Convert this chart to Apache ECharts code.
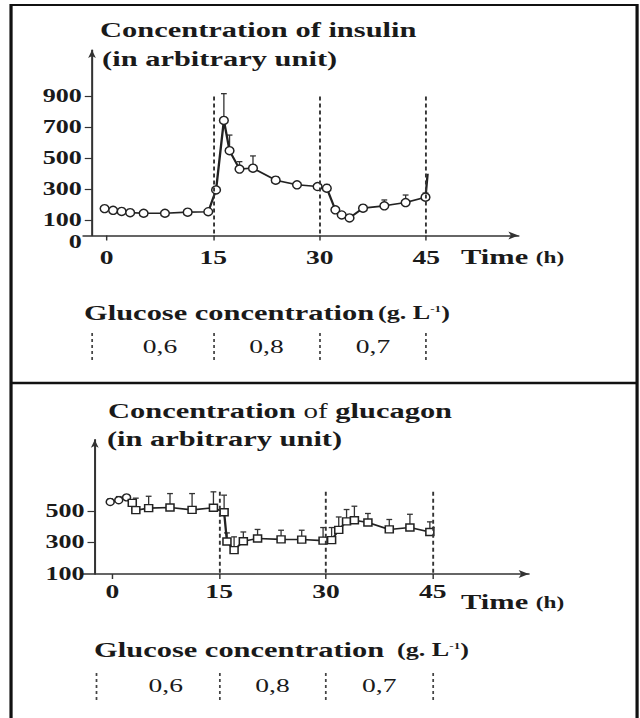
<!DOCTYPE html>
<html>
<head>
<meta charset="utf-8">
<script src="https://cdn.jsdelivr.net/npm/echarts@6/dist/echarts.min.js"></script>
<style>
  html, body { margin: 0; padding: 0; background: #fff; overflow: hidden; }
  /* the scanned figure is wider than it is tall, so draw narrow and stretch sideways */
  #main { width: 441px; height: 718px; transform: scaleX(1.4512); transform-origin: 0 0; }
</style>
</head>
<body>
<div id="main"></div>
<script>
  // insulin (top panel)
  const insulinTime = [-0.3, 0.9, 2.1, 3.3, 5.2, 8.2, 11.4, 14.3, 15.4, 16.5, 17.3, 18.7, 20.6, 23.8, 26.8, 29.7, 31.0, 32.2, 33.1, 34.2, 36.1, 39.1, 42.1, 44.9, 45.2]
  const insulinValue = [174, 163, 156, 148, 144, 144, 151, 154, 295, 745, 549, 430, 436, 358, 328, 317, 306, 166, 133, 114, 177, 192, 213, 248, 400]
  const insulinErrTop = [null, null, null, null, null, null, null, null, null, 918, 650, 478, 515, 380, 345, 335, 330, null, null, null, 195, 230, 262, 275, null]

  // glucagon (bottom panel)
  const glucagonTime = [-0.3, 0.9, 2.0, 2.8, 3.3, 5.1, 8.1, 11.2, 14.2, 15.7, 16.1, 17.1, 18.4, 20.4, 23.7, 26.6, 29.6, 30.8, 31.8, 32.9, 34.0, 35.9, 38.9, 41.8, 44.6, 45.2]
  const glucagonValue = [556, 567, 585, 550, 504, 517, 521, 506, 519, 491, 306, 251, 307, 325, 319, 318, 311, 314, 379, 433, 440, 426, 382, 394, 366, 400]
  const glucagonErrTop = [575, 590, 600, 565, 580, 592, 609, 609, 620, 599, 360, 335, 366, 382, 377, 377, 394, 394, 461, 508, 529, 483, 445, 478, 430, null]

  // axes
  const timeTicks = [0, 15, 30, 45]
  const insulinTicks = [100, 300, 500, 700, 900]
  const insulinZero = [0]
  const glucagonTicks = [100, 300, 500]
  const phaseBounds = [15, 30, 45]

  // glucose row under each chart
  const glucoseBounds = [-2.2, 15, 30, 45]
  const glucoseMid = [7.5, 22.5, 37.5]
  const glucoseLevels = ['0,6', '0,8', '0,7']

  const serif = '"Liberation Serif", "Times New Roman", serif'
  const ink = '#1a1a1a'

  let myChart = echarts.init(document.getElementById('main'), null, { renderer: 'svg' })

  function pairs (xs, ys) {
    return xs.map((x, i) => {
      let item = { value: [x, ys[i]] }
      if (i === xs.length - 1) item.symbol = 'none' // line just runs up at the end
      return item
    })
  }

  function errData (xs, ys, tops) {
    let out = []
    xs.forEach((x, i) => {
      if (tops[i] != null) out.push([x, ys[i], tops[i]])
    })
    return out
  }

  function renderErr (params, api) {
    let p0 = api.coord([api.value(0), api.value(1)])
    let p1 = api.coord([api.value(0), api.value(2)])
    return {
      type: 'group',
      children: [
        { type: 'line', shape: { x1: p0[0], y1: p0[1], x2: p1[0], y2: p1[1] }, style: { stroke: '#333', lineWidth: 0.9 } },
        { type: 'line', shape: { x1: p1[0] - 2, y1: p1[1], x2: p1[0] + 2, y2: p1[1] }, style: { stroke: '#333', lineWidth: 1.3 } }
      ]
    }
  }

  function renderLevel (params, api) {
    let p = api.coord([api.value(0), api.value(1)])
    return {
      type: 'text',
      x: p[0],
      y: p[1],
      style: {
        text: glucoseLevels[api.value(2)],
        fontFamily: serif,
        fontSize: 19,
        fill: ink,
        align: 'center',
        verticalAlign: 'middle'
      }
    }
  }

  function mainX (grid, min, max, margin) {
    return {
      gridIndex: grid,
      type: 'value',
      min: min,
      max: max,
      axisLine: { onZero: false, symbol: ['none', 'arrow'], symbolSize: [6, 7], lineStyle: { color: '#333', width: 1.5 } },
      axisTick: { customValues: timeTicks, length: 5, lineStyle: { color: '#333', width: 1 } },
      axisLabel: { customValues: timeTicks, hideOverlap: false, fontFamily: serif, fontWeight: 'bold', fontSize: 19, color: ink, margin: margin },
      splitLine: { show: false }
    }
  }

  function mainY (grid, min, max, offset, ticks, labels) {
    return {
      gridIndex: grid,
      type: 'value',
      position: 'left',
      min: min,
      max: max,
      offset: offset,
      axisLine: { show: true, onZero: false, symbol: ['none', 'arrow'], symbolSize: [4, 8], lineStyle: { color: '#333', width: 1.4 } },
      axisTick: { show: true, customValues: ticks, length: 5, lineStyle: { color: '#333', width: 1.2 } },
      axisLabel: { customValues: labels, hideOverlap: false, showMinLabel: true, fontFamily: serif, fontWeight: 'bold', fontSize: 18, color: ink, margin: 7 },
      splitLine: { show: false }
    }
  }

  // separate axis just for the "0" of the insulin chart, which hangs just under the x axis
  function zeroY (grid, min, max, offset) {
    return {
      gridIndex: grid,
      type: 'value',
      position: 'left',
      min: min,
      max: max,
      offset: offset,
      axisLine: { show: false, onZero: false },
      axisTick: { show: false },
      axisLabel: {
        customValues: insulinZero,
        showMinLabel: true,
        fontFamily: serif,
        fontWeight: 'bold',
        fontSize: 18,
        lineHeight: 12,
        verticalAlign: 'top',
        color: ink,
        margin: 7
      },
      splitLine: { show: false }
    }
  }

  function hiddenX (grid, min, max) {
    return { gridIndex: grid, type: 'value', min: min, max: max, show: false }
  }
  function hiddenY (grid) {
    return { gridIndex: grid, type: 'value', min: 0, max: 1, show: false }
  }

  function dashLines (top, bottom) {
    return {
      silent: true,
      symbol: ['none', 'none'],
      label: { show: false },
      lineStyle: { type: [4, 3], color: '#333', width: 1.3 },
      data: phaseBounds.map(b => [{ coord: [b, top] }, { coord: [b, bottom] }])
    }
  }

  function levelRow (xi, yi) {
    return {
      type: 'custom',
      xAxisIndex: xi,
      yAxisIndex: yi,
      renderItem: renderLevel,
      data: glucoseMid.map((m, i) => [m, 0.5, i]),
      markLine: {
        silent: true,
        symbol: ['none', 'none'],
        label: { show: false },
        lineStyle: { type: [3, 3], color: '#444', width: 1.2 },
        data: glucoseBounds.map(b => ({ xAxis: b }))
      }
    }
  }

  const lineStyle = {
    type: 'line',
    symbol: 'circle',
    symbolSize: [6, 8],
    lineStyle: { color: '#222', width: 1.6 },
    itemStyle: { color: '#fff', borderColor: '#222', borderWidth: 1.2 },
    clip: false,
    z: 3
  }

  function titleText (x, y, rich, parts) {
    return {
      type: 'text',
      x: x,
      y: y,
      style: {
        text: parts,
        rich: rich,
        fill: ink,
        verticalAlign: 'middle'
      }
    }
  }

  const rich = {
    b: { fontFamily: serif, fontWeight: 'bold', fontSize: 21, fill: ink },
    r: { fontFamily: serif, fontWeight: 'normal', fontSize: 20, fill: ink },
    h: { fontFamily: serif, fontWeight: 'bold', fontSize: 16, fill: ink },
    u: { fontFamily: serif, fontWeight: 'bold', fontSize: 18, fill: ink },
    s: { fontFamily: serif, fontWeight: 'bold', fontSize: 9, fill: ink, verticalAlign: 'top', padding: [0, 0, 8, 0] }
  }

  let option = {
    animation: false,
    backgroundColor: '#fff',
    grid: [
      { left: 57.4, top: 50.1, width: 299.9, height: 185.4 },
      { left: 57.3, top: 439.7, width: 307.1, height: 134.3 },
      { left: 57.4, top: 333, width: 299.9, height: 27 },
      { left: 57.3, top: 672, width: 307.1, height: 28 }
    ],
    xAxis: [
      mainX(0, -3.3, 58, 13),
      mainX(1, -4.1, 58.5, 8),
      hiddenX(2, -3.3, 58),
      hiddenX(3, -4.1, 58.5)
    ],
    yAxis: [
      mainY(0, 0, 1200, -6, insulinTicks, insulinTicks),
      mainY(1, 100, 950, -8, glucagonTicks.slice(1), glucagonTicks),
      hiddenY(2),
      hiddenY(3),
      zeroY(0, 0, 1200, -6)
    ],
    series: [
      Object.assign({}, lineStyle, {
        name: 'insulin',
        xAxisIndex: 0,
        yAxisIndex: 0,
        data: pairs(insulinTime, insulinValue),
        markLine: dashLines(900, 0)
      }),
      {
        type: 'custom',
        xAxisIndex: 0,
        yAxisIndex: 0,
        renderItem: renderErr,
        encode: { x: 0, y: [1, 2] },
        data: errData(insulinTime, insulinValue, insulinErrTop),
        z: 2
      },
      Object.assign({}, lineStyle, {
        name: 'glucagon',
        xAxisIndex: 1,
        yAxisIndex: 1,
        symbol: 'rect',
        symbolSize: [5.5, 7],
        data: pairs(glucagonTime, glucagonValue).map((d, i) => {
          if (i < 3) d.symbol = 'circle'
          return d
        }),
        markLine: dashLines(620, 100)
      }),
      {
        type: 'custom',
        xAxisIndex: 1,
        yAxisIndex: 1,
        renderItem: renderErr,
        encode: { x: 0, y: [1, 2] },
        data: errData(glucagonTime, glucagonValue, glucagonErrTop),
        z: 2
      },
      levelRow(2, 2),
      levelRow(3, 3)
    ],
    graphic: [
      // frame of the two panels
      { type: 'rect', shape: { x: 7.6, y: 5, width: 431.4, height: 740 }, style: { fill: 'none', stroke: '#111', lineWidth: 2.2 } },
      { type: 'line', shape: { x1: 7.6, y1: 383, x2: 439, y2: 383 }, style: { stroke: '#111', lineWidth: 2.4 } },

      titleText(68.9, 30, rich, '{b|Concentration of insulin}'),
      titleText(70.3, 59, rich, '{b|(in arbitrary unit)}'),
      titleText(317.7, 257, rich, '{b|Time }{h|(h)}'),
      titleText(57.9, 313, rich, '{b|Glucose concentration}'),
      titleText(260.5, 313, rich, '{u|(g. L}{s|-1}{u|)}'),

      titleText(74.4, 411, rich, '{b|Concentration }{r|of}{b| glucagon}'),
      titleText(73.7, 439, rich, '{b|(in arbitrary unit)}'),
      titleText(317.7, 602, rich, '{b|Time }{h|(h)}'),
      titleText(64.8, 650, rich, '{b|Glucose concentration}'),
      titleText(273.6, 650, rich, '{u|(g. L}{s|-1}{u|)}')
    ]
  }

  myChart.setOption(option)
</script>
</body>
</html>
